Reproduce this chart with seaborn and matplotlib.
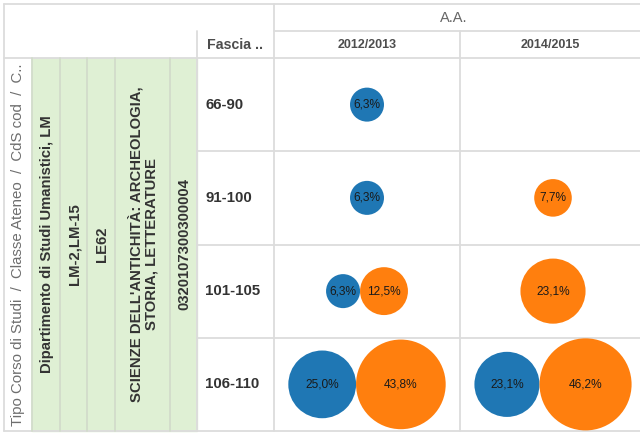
import matplotlib.pyplot as plt
import numpy as np
import pandas as pd
import seaborn as sns

# data
anni = ["2012/2013", "2014/2015"]
fasce = ["66-90", "91-100", "101-105", "106-110"]
serie_2012_blu = [6.3, 6.3, 6.3, 25.0]
serie_2012_arancio = [None, None, 12.5, 43.8]
serie_2014_blu = [None, None, None, 23.1]
serie_2014_arancio = [None, 7.7, 23.1, 46.2]
header_sx = "Tipo Corso di Studi  /  Classe Ateneo  /  CdS cod  /  C.."
colonne_verdi = ["Dipartimento di Studi Umanistici, LM", "LM-2,LM-15", "LE62",
                 "SCIENZE DELL'ANTICHITÀ: ARCHEOLOGIA,\nSTORIA, LETTERATURE",
                 "0320107300300004"]

sns.set_theme(style="white")
plt.rcParams["font.family"] = ["Liberation Sans", "DejaVu Sans"]

W, H = 640, 433
fig = plt.figure(figsize=(6.4, 4.33), dpi=100)
ax = fig.add_axes([0, 0, 1, 1])
ax.set_xlim(0, W)
ax.set_ylim(H, 0)
ax.axis("off")

grid = "#dcdcdc"
verde = "#dff0d4"
# table layout (pixels)
left, top, bottom = 4, 4, 431
x_green = [32, 60, 87, 115, 170, 197]
x_fascia = 274
x_col = [274, 460, 646]
y_head1, y_head2 = 31, 58
row_h = (bottom - y_head2) / len(fasce)

ax.add_patch(plt.Rectangle((x_green[0], y_head2), x_green[-1] - x_green[0], bottom - y_head2,
                           color=verde, zorder=0))
lw = 1.3
ax.plot([left, W], [top, top], color=grid, lw=lw)
ax.plot([left, W], [bottom, bottom], color=grid, lw=lw)
ax.plot([left, left], [top, bottom], color=grid, lw=lw)
ax.plot([left, W], [y_head2, y_head2], color=grid, lw=lw)
ax.plot([x_fascia, W], [y_head1, y_head1], color=grid, lw=lw)
ax.plot([x_fascia, x_fascia], [top, bottom], color=grid, lw=lw)
ax.plot([x_col[1], x_col[1]], [y_head1, bottom], color=grid, lw=lw)
ax.plot([x_green[-1], x_green[-1]], [y_head1, bottom], color=grid, lw=lw)
for xg in x_green[:-1]:
    ax.plot([xg, xg], [y_head2, bottom], color="#d2dccb", lw=lw)
for i in range(1, len(fasce)):
    y = y_head2 + i * row_h
    ax.plot([x_green[-1], W], [y, y], color=grid, lw=lw)

# header texts
ax.text((x_fascia + W) / 2 - 3, 18, "A.A.", ha="center", va="center", fontsize=10.5, color="#666666")
for j, a in enumerate(anni):
    ax.text((x_col[j] + min(x_col[j + 1], 640)) / 2, 45, a, ha="center", va="center",
            fontsize=9, fontweight="bold", color="#4d4d4d")
ax.text(x_fascia - 11, 45, "Fascia ..", ha="right", va="center", fontsize=10.2,
        fontweight="bold", color="#4d4d4d")
ax.text(18, 426, header_sx, rotation=90, ha="center", va="bottom", fontsize=10.8, color="#6e6e6e")
y_mid = (y_head2 + bottom) / 2
for k, t in enumerate(colonne_verdi):
    ax.text((x_green[k] + x_green[k + 1]) / 2 + 1, y_mid, t, rotation=90, ha="center",
            va="center", multialignment="center", fontsize=10.7, fontweight="bold",
            color="#333333", linespacing=1.05)
for i, f in enumerate(fasce):
    ax.text(x_green[-1] + 8, y_head2 + (i + 0.5) * row_h, f, ha="left", va="center",
            fontsize=10.8, fontweight="bold", color="#333333")

# bubbles: packed side by side within each cell, area proportional to value
r_unit = 17 / np.sqrt(6.3)  # px radius per sqrt(%)
rows = []
serie = [(0, serie_2012_blu, serie_2012_arancio), (1, serie_2014_blu, serie_2014_arancio)]
for j, blu, ara in serie:
    cx = (x_col[j] + x_col[j] + 186) / 2
    for i in range(len(fasce)):
        vals = [(v, c) for v, c in [(blu[i], "blu"), (ara[i], "arancio")] if v is not None]
        radii = [r_unit * np.sqrt(v) for v, _ in vals]
        x0 = cx - sum(radii)
        for (v, c), r in zip(vals, radii):
            rows.append({"x": x0 + r, "y": y_head2 + (i + 0.5) * row_h, "val": v, "serie": c})
            x0 += 2 * r
df = pd.DataFrame(rows)

pt_per_px = 72 / 100
s_per_val = (2 * 17 * pt_per_px) ** 2 / 6.3
sns.scatterplot(data=df, x="x", y="y", hue="serie", size="val",
                palette={"blu": "#1f77b4", "arancio": "#ff7f0e"},
                sizes=(0, s_per_val * 50), size_norm=(0, 50),
                linewidth=0, alpha=1, legend=False, ax=ax, zorder=3)
for _, r in df.iterrows():
    ax.text(r["x"], r["y"], f"{r['val']:.1f}%".replace(".", ","), ha="center", va="center",
            fontsize=8.6, color="#1a1a1a", zorder=4)

ax.set_xlim(0, W)
ax.set_ylim(H, 0)
fig.savefig("out.png", dpi=100)
